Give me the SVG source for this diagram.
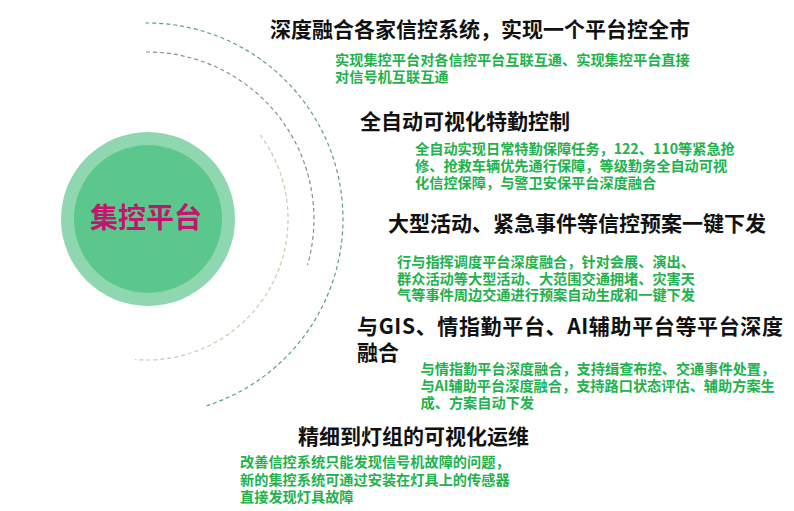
<svg xmlns="http://www.w3.org/2000/svg" width="794" height="511" viewBox="0 0 794 511">
<style>
.t{font-family:"Noto Sans CJK SC","Noto Sans",sans-serif;font-weight:bold;font-size:21px;fill:#111}
.g{font-family:"Noto Sans CJK SC","Noto Sans",sans-serif;font-weight:bold;font-size:14.2px;fill:#22b14c}
.arc{fill:none;stroke-width:1.2;stroke-dasharray:4 3}
</style>
<rect width="794" height="511" fill="#ffffff"/>
<g id="arcs">
<path class="arc" stroke="#5d9c94" d="M145.3,23 A196,196 0 0 1 206.6,405.7"/>
<path class="arc" stroke="#8e8c84" d="M146,52 A167,167 0 0 1 307.5,265"/>
<path class="arc" stroke="#d6c6aa" d="M260.2,134.9 A141,141 0 0 1 135,359.5"/>
</g>
<g id="center">
<circle cx="148" cy="219" r="87" fill="#8fd7b0"/>
<circle cx="148" cy="219" r="74" fill="#5cc78c"/>
<text x="146" y="228" text-anchor="middle" font-family="Noto Sans CJK SC, sans-serif" font-weight="bold" font-size="28" fill="#c3146e">集控平台</text>
</g>
<g id="item1">
<text class="t" x="270" y="37">深度融合各家信控系统，实现一个平台控全市</text>
<text class="g"><tspan x="335" y="64.5">实现集控平台对各信控平台互联互通、实现集控平台直接</tspan><tspan x="335" y="82">对信号机互联互通</tspan></text>
</g>
<g id="item2">
<text class="t" x="360" y="128.5">全自动可视化特勤控制</text>
<text class="g"><tspan x="415" y="153.5">全自动实现日常特勤保障任务，122、110等紧急抢</tspan><tspan x="415" y="170.5">修、抢救车辆优先通行保障，等级勤务全自动可视</tspan><tspan x="415" y="187.5">化信控保障，与警卫安保平台深度融合</tspan></text>
</g>
<g id="item3">
<text class="t" x="388" y="231">大型活动、紧急事件等信控预案一键下发</text>
<text class="g"><tspan x="397" y="267">行与指挥调度平台深度融合，针对会展、演出、</tspan><tspan x="397" y="284">群众活动等大型活动、大范围交通拥堵、灾害天</tspan><tspan x="397" y="300">气等事件周边交通进行预案自动生成和一键下发</tspan></text>
</g>
<g id="item4">
<text class="t"><tspan x="357" y="334" textLength="426" lengthAdjust="spacing">与GIS、情指勤平台、AI辅助平台等平台深度</tspan><tspan x="357" y="359.5">融合</tspan></text>
<text class="g"><tspan x="420.5" y="374">与情指勤平台深度融合，支持缉查布控、交通事件处置，</tspan><tspan x="420.5" y="391">与AI辅助平台深度融合，支持路口状态评估、辅助方案生</tspan><tspan x="420.5" y="408">成、方案自动下发</tspan></text>
</g>
<g id="item5">
<text class="t" x="298" y="444">精细到灯组的可视化运维</text>
<text class="g"><tspan x="240" y="467">改善信控系统只能发现信号机故障的问题，</tspan><tspan x="240" y="485">新的集控系统可通过安装在灯具上的传感器</tspan><tspan x="240" y="502">直接发现灯具故障</tspan></text>
</g>
</svg>
